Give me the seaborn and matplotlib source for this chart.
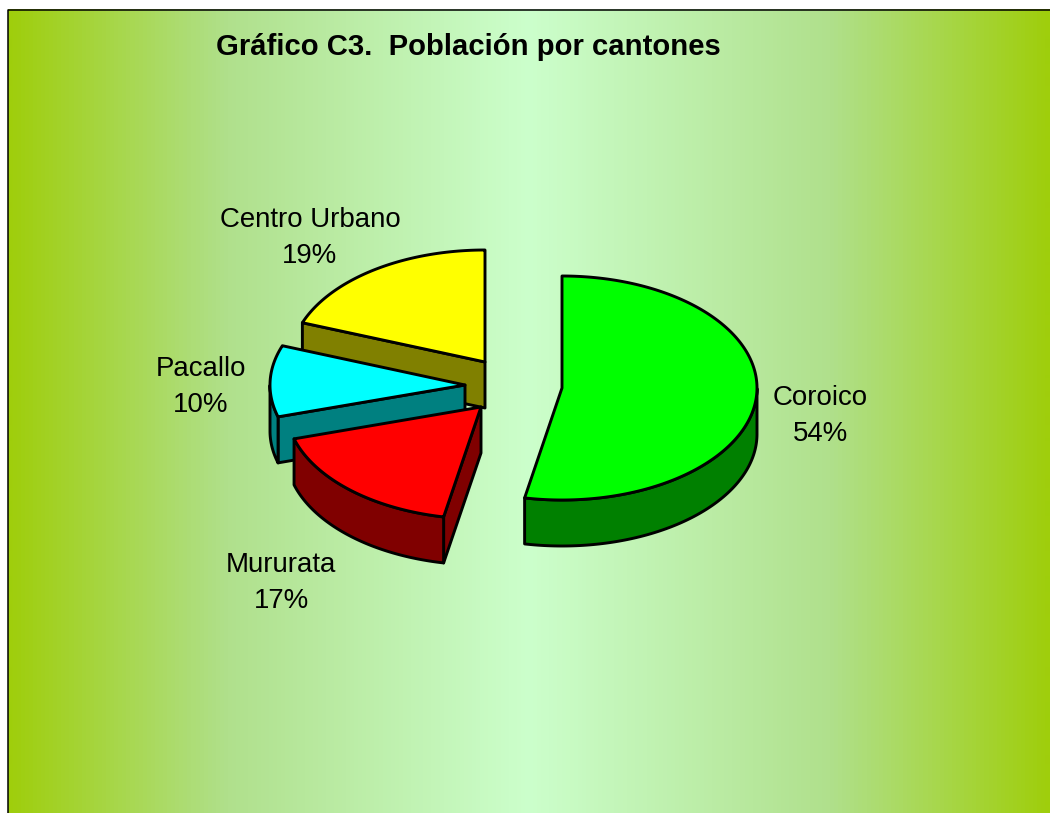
import numpy as np
import matplotlib
matplotlib.use("Agg")
import matplotlib.pyplot as plt
from matplotlib.colors import LinearSegmentedColormap
import seaborn as sns

# Data
categories = ["Coroico", "Mururata", "Pacallo", "Centro Urbano"]
percentages = [54, 17, 10, 19]
top_colors = ["#00FF00", "#FF0000", "#00FFFF", "#FFFF00"]
side_colors = ["#008000", "#800000", "#008080", "#808000"]
title = "Gráfico C3.  Población por cantones"

sns.set_theme(style="white")
plt.rcParams["font.family"] = ["Liberation Sans", "DejaVu Sans"]

W, H = 1050, 813
fig = plt.figure(figsize=(W / 100, H / 100), dpi=100, facecolor="white")
ax = fig.add_axes([0, 0, 1, 1])
ax.axis("off")

# Background gradient panel
L, T = 8, 10
cmap = LinearSegmentedColormap.from_list(
    "bg", [(0, "#9FCE0C"), (0.21, "#B0E08C"), (0.5, "#CCFFCC"),
           (0.79, "#B0E08C"), (1, "#9FCE0C")])
ax.imshow(np.linspace(0, 1, 1042)[None, :], cmap=cmap, extent=[L, W, H, T],
          aspect="auto", zorder=0, interpolation="bilinear")
ax.set_xlim(0, W)
ax.set_ylim(H, 0)
ax.plot([L, L, W], [H, T, T], color="black", lw=1.1, zorder=1)

# Pie geometry
RX, RY, DEPTH = 195, 112, 46
centers = {"Coroico": (562, 388), "Mururata": (481, 407),
           "Pacallo": (465, 385), "Centro Urbano": (485, 362)}


def warp(theta):
    # slight shift produced by the 3-D perspective of the tilted pie
    return theta + 3.4 * (1 - np.cos(np.radians(theta - 90))) / 2


def pt(c, theta, dz=0):
    t = np.radians(theta)
    return c[0] + RX * np.cos(t), c[1] - RY * np.sin(t) + dz


shares = np.array(percentages) / sum(percentages) * 360
ends = 90 - np.cumsum(shares)
starts = ends + shares
spans = {n: (warp(s), warp(e)) for n, s, e in zip(categories, starts, ends)}
style = dict(edgecolor="black", linewidth=2.1, joinstyle="round")

# draw back to front
for name in ["Centro Urbano", "Pacallo", "Mururata", "Coroico"]:
    i = categories.index(name)
    c = centers[name]
    t0, t1 = spans[name]  # t0 > t1, clockwise

    # flat cut face along the slice's first edge, where it looks towards the viewer
    if name != "Coroico":
        p = pt(c, t0)
        ax.fill([c[0], p[0], p[0], c[0]],
                [c[1], p[1], p[1] + DEPTH, c[1] + DEPTH],
                facecolor=side_colors[i], zorder=2, **style)

    # outer rim (only the part in the lower half of the ellipse)
    ts = np.linspace(t0, t1, 200)
    low = ts[(np.sin(np.radians(ts)) <= 0)]
    if len(low):
        x, y = pt(c, low)
        ax.fill(np.r_[x, x[::-1]], np.r_[y, y[::-1] + DEPTH],
                facecolor=side_colors[i], zorder=2, **style)

    # top face
    x, y = pt(c, ts)
    ax.fill(np.r_[c[0], x], np.r_[c[1], y], facecolor=top_colors[i], zorder=2, **style)

# Labels
label_pos = {"Coroico": (820, 416), "Mururata": (281, 583),
             "Pacallo": (201, 387), "Centro Urbano": (310, 238)}
for name, pct in zip(categories, percentages):
    x, y = label_pos[name]
    ax.text(x, y, f"{name}\n{pct}%", ha="center", va="center", fontsize=19.9,
            color="black", linespacing=1.48, zorder=3)

ax.text(468, 47, title, ha="center", va="center", fontsize=21.1,
        fontweight="bold", color="black", zorder=3)

fig.savefig("out.png", dpi=100, facecolor="white")
